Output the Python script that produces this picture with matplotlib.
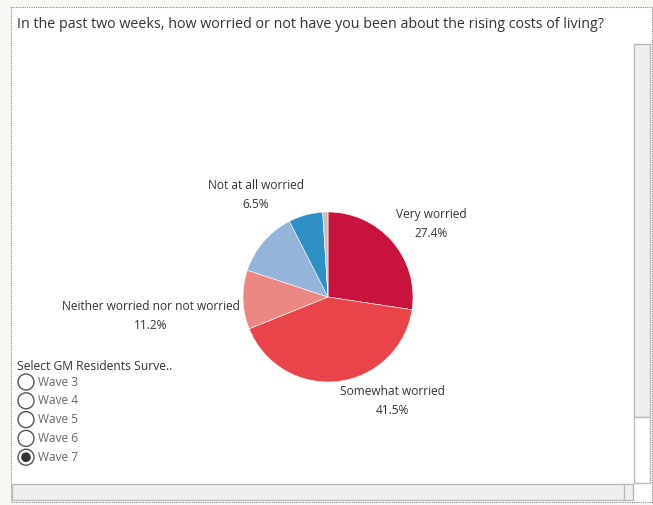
import matplotlib.pyplot as plt
from matplotlib.patches import Rectangle, Circle

plt.rcParams['font.family'] = ['Open Sans', 'DejaVu Sans']

# data
labels = ['Very worried', 'Somewhat worried', 'Neither worried nor not worried',
          'Not very worried', 'Not at all worried', "Don't know"]
values = [27.4, 41.5, 11.2, 12.4, 6.5, 1.0]
colors = ['#C8143C', '#E8444A', '#EC8884', '#95B4DA', '#2E90C4', '#C9BFBA']
shown = [True, True, True, False, True, False]
waves = ['Wave 3', 'Wave 4', 'Wave 5', 'Wave 6', 'Wave 7']
selected = 'Wave 7'
title = 'In the past two weeks, how worried or not have you been about the rising costs of living?'

W, H = 653, 505
fig = plt.figure(figsize=(W / 100, H / 100), dpi=100)
fig.patch.set_facecolor('#F7F7F4')

# overlay axes in pixel coords for the dashboard furniture
bg = fig.add_axes([0, 0, 1, 1])
bg.set_xlim(0, W)
bg.set_ylim(H, 0)
bg.axis('off')
bg.add_patch(Rectangle((11, 7), 641, 495, facecolor='white', edgecolor='#888888',
                       lw=0.8, ls=(0, (1, 1))))
# vertical scrollbar
bg.add_patch(Rectangle((634, 44), 16, 373, facecolor='#EFEFEF', edgecolor='#BBBBBB', lw=1))
bg.add_patch(Rectangle((634, 417), 16, 66, facecolor='white', edgecolor='#BBBBBB', lw=1))
# horizontal scrollbar
bg.add_patch(Rectangle((12, 484), 621, 16, facecolor='#EFEFEF', edgecolor='#BBBBBB', lw=1))
bg.plot([624, 624], [484, 500], color='#BBBBBB', lw=1)

bg.text(17, 25, title, fontsize=10.3, color='#333333', va='center', ha='left')

# wave selector
bg.text(17, 367, 'Select GM Residents Surve..', fontsize=8.7, color='#333333', va='center')
for i, w in enumerate(waves):
    y = 382 + i * 18.8
    bg.add_patch(Circle((26, y), 8, facecolor='white', edgecolor='#555555', lw=1))
    if w == selected:
        bg.add_patch(Circle((26, y), 4.8, facecolor='#333333', edgecolor='none'))
    bg.text(38, y, w, fontsize=8.6, color='#666666', va='center')

# pie
cx, cy, r = 328, 297, 85
pax = fig.add_axes([(cx - r) / W, (H - cy - r) / H, 2 * r / W, 2 * r / H])
pax.pie(values, colors=colors, startangle=90, counterclock=False, radius=1,
        wedgeprops=dict(edgecolor='white', linewidth=0.4))
pax.set_xlim(-1, 1)
pax.set_ylim(-1, 1)
pax.set_aspect('auto')
pax.axis('off')

label_pos = {'Very worried': (431, 224), 'Somewhat worried': (392, 401),
             'Neither worried nor not worried': (151, 316), 'Not at all worried': (256, 195)}
for lab, v, s in zip(labels, values, shown):
    if not s:
        continue
    x, y = label_pos[lab]
    bg.text(x, y, f'{lab}\n{v:.1f}%', fontsize=8.6, color='#333333', ha='center', va='center',
            linespacing=1.55)

fig.savefig('out.png', dpi=100, facecolor=fig.get_facecolor())
